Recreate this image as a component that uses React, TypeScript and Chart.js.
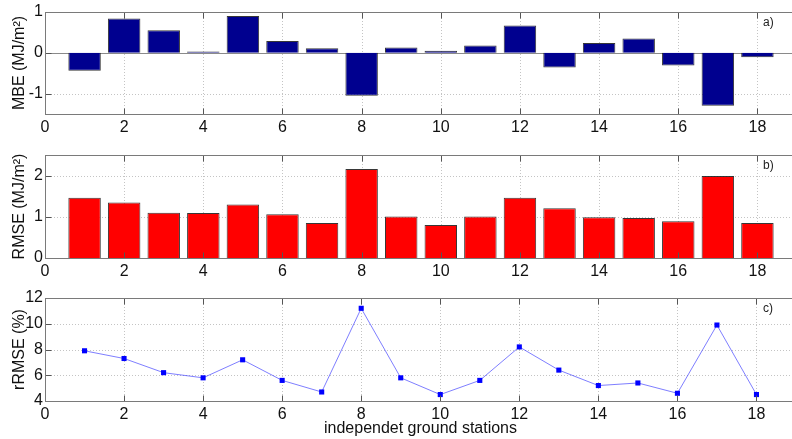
import { useEffect, useRef } from 'react';
import { Chart, registerables } from 'chart.js';

Chart.register(...registerables);

// Station numbers along the shared x axis
const stations = [1, 2, 3, 4, 5, 6, 7, 8, 9, 10, 11, 12, 13, 14, 15, 16, 17, 18];
// a) mean bias error per station (MJ/m²)
const mbe = [-0.44, 0.84, 0.55, 0.03, 0.9, 0.29, 0.11, -1.05, 0.13, 0.05, 0.18, 0.67, -0.36, 0.24, 0.35, -0.31, -1.3, -0.11];
// b) root mean square error per station (MJ/m²)
const rmse = [1.46, 1.35, 1.1, 1.09, 1.3, 1.06, 0.85, 2.16, 1.01, 0.8, 1.01, 1.46, 1.21, 0.99, 0.97, 0.89, 1.99, 0.85];
// c) relative RMSE per station (%)
const rrmse = [7.9, 7.3, 6.2, 5.8, 7.2, 5.6, 4.7, 11.2, 5.8, 4.5, 5.6, 8.2, 6.4, 5.2, 5.4, 4.6, 9.9, 4.5];

const xTicks = [0, 2, 4, 6, 8, 10, 12, 14, 16, 18];
const mbeTicks = [-1, 0, 1];
const rmseTicks = [0, 1, 2];
const rrmseTicks = [4, 6, 8, 10, 12];

const FONT = "'Liberation Sans', Arial, sans-serif";
Chart.defaults.font.family = FONT;
Chart.defaults.color = '#111';

// Dotted grid, MATLAB-like box with inward ticks, zero line and panel tag
const axesBox = {
  id: 'axesBox',
  beforeDatasetsDraw(chart: any, _args: any, opts: any) {
    const { ctx, chartArea: a, scales } = chart;
    const x = scales.x;
    const y = scales.y;
    ctx.save();
    ctx.strokeStyle = '#c4c4c4';
    ctx.lineWidth = 1;
    ctx.setLineDash([1, 2]);
    for (const v of xTicks) {
      const px = Math.round(x.getPixelForValue(v)) + 0.5;
      ctx.beginPath();
      ctx.moveTo(px, a.top);
      ctx.lineTo(px, a.bottom);
      ctx.stroke();
    }
    for (const v of opts.yTicks as number[]) {
      const py = Math.round(y.getPixelForValue(v)) + 0.5;
      ctx.beginPath();
      ctx.moveTo(a.left, py);
      ctx.lineTo(a.right, py);
      ctx.stroke();
    }
    ctx.setLineDash([]);
    if (opts.zero) {
      const py = Math.round(y.getPixelForValue(0)) + 0.5;
      ctx.strokeStyle = '#8a8a8a';
      ctx.beginPath();
      ctx.moveTo(a.left, py);
      ctx.lineTo(a.right, py);
      ctx.stroke();
    }
    ctx.restore();
  },
  afterDatasetsDraw(chart: any, _args: any, opts: any) {
    const { ctx, chartArea: a, scales } = chart;
    const x = scales.x;
    const y = scales.y;
    const L = Math.round(a.left) + 0.5;
    const T = Math.round(a.top) + 0.5;
    const R = Math.round(a.right) + 0.5;
    const B = Math.round(a.bottom) + 0.5;
    ctx.save();
    ctx.strokeStyle = '#555';
    ctx.lineWidth = 1;
    const tl = 6;
    for (const v of xTicks) {
      const px = Math.round(x.getPixelForValue(v)) + 0.5;
      ctx.beginPath();
      ctx.moveTo(px, T);
      ctx.lineTo(px, T + tl);
      ctx.moveTo(px, B);
      ctx.lineTo(px, B - tl);
      ctx.stroke();
    }
    for (const v of opts.yTicks as number[]) {
      const py = Math.round(y.getPixelForValue(v)) + 0.5;
      ctx.beginPath();
      ctx.moveTo(L, py);
      ctx.lineTo(L + tl, py);
      ctx.stroke();
    }
    ctx.strokeStyle = '#7a7a7a';
    ctx.strokeRect(L, T, R - L, B - T);
    ctx.fillStyle = '#222';
    ctx.font = `12px ${FONT}`;
    ctx.textAlign = 'left';
    ctx.textBaseline = 'alphabetic';
    ctx.fillText(opts.tag, 763, a.top + 14);
    ctx.restore();
  },
};

type PanelSpec = {
  kind: 'bar' | 'line';
  values: number[];
  color: string;
  yMin: number;
  yMax: number;
  yTicks: number[];
  yTitle: string;
  tag: string;
  height: number;
  top: number;
  bottom: number;
  xTitle?: string;
  zero?: boolean;
};

function buildConfig(p: PanelSpec): any {
  const points = stations.map((s, i) => ({ x: s, y: p.values[i] }));
  const dataset: any =
    p.kind === 'bar'
      ? {
          data: points,
          backgroundColor: p.color,
          borderColor: 'rgba(20,20,20,0.85)',
          borderWidth: 1,
          barPercentage: 0.82,
          categoryPercentage: 1,
        }
      : {
          data: points,
          borderColor: 'rgba(40,40,255,0.6)',
          borderWidth: 1,
          pointStyle: 'rect',
          pointRadius: 3.6,
          pointBackgroundColor: '#0000ff',
          pointBorderWidth: 0,
          tension: 0,
        };
  return {
    type: p.kind,
    data: { datasets: [dataset] },
    plugins: [axesBox],
    options: {
      responsive: false,
      animation: false,
      devicePixelRatio: 1,
      layout: { padding: { top: p.top, right: 3, left: 0, bottom: 0 } },
      plugins: {
        legend: { display: false },
        tooltip: { enabled: false },
        axesBox: { yTicks: p.yTicks, zero: !!p.zero, tag: p.tag },
      },
      scales: {
        x: {
          type: 'linear',
          min: 0,
          max: 19,
          offset: false,
          grid: { display: false, drawTicks: false },
          border: { display: false },
          afterBuildTicks: (s: any) => {
            s.ticks = xTicks.map((v) => ({ value: v }));
          },
          afterFit: (s: any) => {
            s.height = p.height - p.bottom;
          },
          ticks: { font: { size: 16 }, padding: 4, maxRotation: 0, autoSkip: false, color: '#111' },
          title: p.xTitle
            ? { display: true, text: p.xTitle, font: { size: 16 }, color: '#111', padding: { top: 0, bottom: 1 } }
            : { display: false },
        },
        y: {
          min: p.yMin,
          max: p.yMax,
          grid: { display: false, drawTicks: false },
          border: { display: false },
          afterBuildTicks: (s: any) => {
            s.ticks = p.yTicks.map((v) => ({ value: v }));
          },
          afterFit: (s: any) => {
            s.width = 45;
          },
          ticks: { font: { size: 16 }, padding: 2, color: '#111' },
          title: { display: true, text: p.yTitle, font: { size: 16 }, color: '#111', padding: { top: 10, bottom: 0 } },
        },
      },
    },
  };
}

const panels: PanelSpec[] = [
  {
    kind: 'bar', values: mbe, color: '#00008f', yMin: -1.5, yMax: 1, yTicks: mbeTicks,
    yTitle: 'MBE (MJ/m²)', tag: 'a)', height: 140, top: 12, bottom: 114, zero: true,
  },
  {
    kind: 'bar', values: rmse, color: '#ff0000', yMin: 0, yMax: 2.5, yTicks: rmseTicks,
    yTitle: 'RMSE (MJ/m²)', tag: 'b)', height: 145, top: 15, bottom: 118,
  },
  {
    kind: 'line', values: rrmse, color: '#0000ff', yMin: 4, yMax: 12, yTicks: rrmseTicks,
    yTitle: 'rRMSE (%)', tag: 'c)', height: 154, top: 13, bottom: 116,
    xTitle: 'independet ground stations',
  },
];

function Panel({ spec, offset }: { spec: PanelSpec; offset: number }) {
  const ref = useRef<HTMLCanvasElement>(null);
  useEffect(() => {
    if (!ref.current) return;
    const chart = new Chart(ref.current, buildConfig(spec));
    return () => chart.destroy();
  }, [spec]);
  return (
    <canvas
      ref={ref}
      width={800}
      height={spec.height}
      style={{ position: 'absolute', left: 0, top: offset, width: 800, height: spec.height }}
    />
  );
}

export default function App() {
  const offsets = [0, 140, 285];
  return (
    <div
      style={{
        position: 'absolute',
        left: 0,
        top: 0,
        width: 792,
        height: 439,
        overflow: 'hidden',
        background: '#fff',
      }}
    >
      {panels.map((p, i) => (
        <Panel key={p.tag} spec={p} offset={offsets[i]} />
      ))}
    </div>
  );
}
